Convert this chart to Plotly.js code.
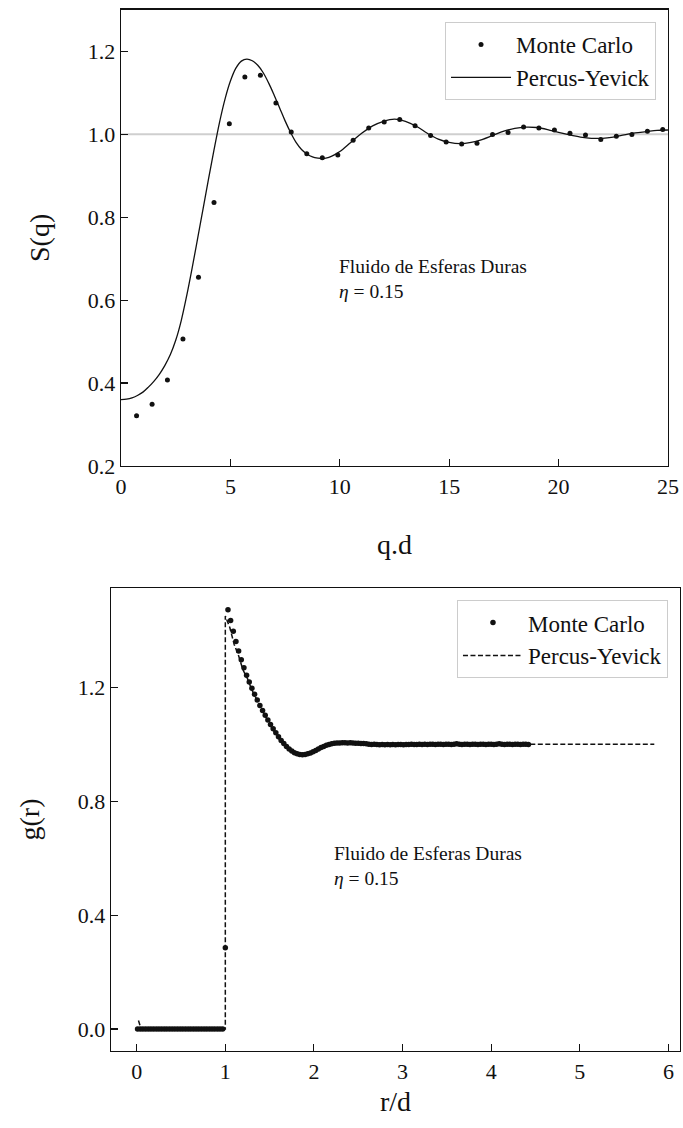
<!DOCTYPE html>
<html>
<head>
<meta charset="utf-8">
<script src="https://cdn.plot.ly/plotly-3.0.1.min.js"></script>
<style>
  html, body { margin: 0; padding: 0; background: #fff; }
  #chart { width: 683px; height: 1128px; }
</style>
</head>
<body>
<div id="chart"></div>
<script>
// ---------- S(q) panel data ----------
const q_mc = [0.71,1.42,2.12,2.83,3.54,4.25,4.95,5.66,6.37,7.08,7.78,8.49,9.20,9.91,10.61,11.32,12.03,12.74,13.44,14.15,14.86,15.57,16.27,16.98,17.69,18.40,19.10,19.81,20.52,21.23,21.93,22.64,23.35,24.06,24.76];
const s_mc = [0.321,0.349,0.407,0.506,0.655,0.835,1.025,1.138,1.142,1.075,1.005,0.953,0.943,0.950,0.985,1.015,1.029,1.035,1.020,0.997,0.981,0.976,0.978,0.999,1.004,1.017,1.015,1.010,1.002,0.998,0.987,0.995,0.999,1.007,1.011];

const q_py = [0,0.25,0.5,0.75,1.0,1.25,1.5,1.75,2.0,2.25,2.5,2.75,3.0,3.25,3.5,3.75,4.0,4.25,4.5,4.75,5.0,5.25,5.5,5.75,6.0,6.25,6.5,6.75,7.0,7.25,7.5,7.75,8.0,8.25,8.5,8.75,9.0,9.25,9.5,9.75,10.0,10.5,11.0,11.5,12.0,12.5,13.0,13.5,14.0,14.5,15.0,15.5,16.0,16.5,17.0,17.5,18.0,18.5,19.0,19.5,20.0,20.5,21.0,21.5,22.0,22.5,23.0,23.5,24.0,24.5,25.0];
const s_py = [0.360,0.361,0.364,0.370,0.378,0.390,0.404,0.421,0.442,0.468,0.503,0.550,0.610,0.677,0.748,0.820,0.892,0.962,1.028,1.084,1.128,1.159,1.176,1.181,1.177,1.166,1.148,1.123,1.094,1.063,1.032,1.004,0.980,0.963,0.952,0.945,0.942,0.941,0.944,0.950,0.958,0.980,1.002,1.020,1.031,1.036,1.031,1.019,1.002,0.988,0.980,0.977,0.980,0.987,0.997,1.007,1.014,1.017,1.016,1.011,1.004,0.998,0.993,0.990,0.990,0.993,0.998,1.003,1.006,1.009,1.010];

const s_reference = 1.0;

// ---------- g(r) panel data ----------
const r_mc = [0.01,0.04,0.07,0.10,0.13,0.16,0.19,0.22,0.25,0.28,0.31,0.34,0.37,0.40,0.43,0.46,0.49,0.52,0.55,0.58,0.61,0.64,0.67,0.70,0.73,0.76,0.79,0.82,0.85,0.88,0.91,0.94,0.97,1.00,
 1.03,1.06,1.09,1.12,1.15,1.18,1.21,1.24,1.27,1.30,1.33,1.36,1.39,1.42,1.45,1.48,1.51,1.54,1.57,1.60,1.63,1.66,1.69,1.72,1.75,1.78,1.81,1.84,1.87,1.90,1.93,1.96,1.99,2.02,2.05,2.08,2.11,2.14,2.17,2.20,2.23,2.26,2.29,2.32,2.35,2.38,2.41,2.44,2.47,2.50,2.53,2.56,2.59,2.62,
 2.65,2.68,2.71,2.74,2.77,2.80,2.83,2.86,2.89,2.92,2.95,2.98,3.01,3.04,3.07,3.10,3.13,3.16,3.19,3.22,3.25,3.28,3.31,3.34,3.37,3.40,3.43,3.46,3.49,3.52,3.55,3.58,3.61,3.64,3.67,3.70,3.73,3.76,3.79,3.82,3.85,3.88,3.91,3.94,3.97,4.00,4.03,4.06,4.09,4.12,4.15,4.18,4.21,4.24,4.27,4.30,4.33,4.36,4.39,4.42];
const g_mc = [0,0,0,0,0,0,0,0,0,0,0,0,0,0,0,0,0,0,0,0,0,0,0,0,0,0,0,0,0,0,0,0,0,0.285,
 1.472,1.434,1.396,1.360,1.327,1.296,1.268,1.242,1.218,1.196,1.175,1.155,1.136,1.118,1.101,1.085,1.069,1.054,1.040,1.026,1.013,1.002,0.992,0.983,0.976,0.970,0.966,0.964,0.963,0.964,0.966,0.969,0.973,0.978,0.983,0.988,0.992,0.996,0.999,1.001,1.003,1.004,1.004,1.005,1.005,1.004,1.005,1.004,1.003,1.003,1.002,1.002,1.001,1.000,
 0.999,1.000,0.999,0.998,0.999,0.998,0.999,0.998,0.999,0.998,0.999,0.999,0.998,0.999,0.999,1.000,0.999,0.999,1.000,0.999,1.000,0.999,1.000,1.000,0.999,1.000,1.000,0.999,1.000,1.000,0.999,1.000,1.001,1.000,0.999,1.000,1.000,0.999,1.000,1.000,0.999,1.000,1.000,0.999,1.000,1.000,0.999,1.000,1.001,1.000,0.999,1.000,1.000,0.999,1.000,1.000,0.999,1.000,1.000,0.999];

const r_py = [0.02,0.05,0.10,0.50,0.99,1.00,1.00,1.05,1.10,1.15,1.20,1.25,1.30,1.40,1.50,1.60,1.70,1.80,1.90,2.00,2.10,2.20,2.30,2.40,2.60,2.80,3.00,3.50,4.00,4.50,5.00,5.50,5.84];
const g_py = [0.03,0.00,0.00,0.00,0.00,0.00,1.45,1.41,1.35,1.31,1.26,1.23,1.19,1.13,1.07,1.02,0.99,0.967,0.964,0.975,0.991,1.001,1.004,1.004,1.001,0.999,0.999,1.000,1.000,1.000,1.000,1.000,1.000];

const seriesNames = ['Monte Carlo', 'Percus-Yevick'];
const panelText = 'Fluido de Esferas Duras<br><i>η</i> = 0.15';

// ---------- styling ----------
const FONT = 'Liberation Serif, Times New Roman, serif';
const INK = '#111111';

const traces = [
  { x: q_mc, y: s_mc, type: 'scatter', mode: 'markers', name: seriesNames[0],
    marker: { color: INK, size: 5 }, xaxis: 'x', yaxis: 'y', legend: 'legend' },
  { x: q_py, y: s_py, type: 'scatter', mode: 'lines', name: seriesNames[1],
    line: { color: INK, width: 1.3, shape: 'spline', smoothing: 1 }, xaxis: 'x', yaxis: 'y', legend: 'legend' },
  { x: r_mc, y: g_mc, type: 'scatter', mode: 'markers', name: seriesNames[0],
    marker: { color: INK, size: 5.5 }, xaxis: 'x2', yaxis: 'y2', legend: 'legend2' },
  { x: r_py, y: g_py, type: 'scatter', mode: 'lines', name: seriesNames[1],
    line: { color: INK, width: 1.5, dash: '5px,2.5px' }, xaxis: 'x2', yaxis: 'y2', legend: 'legend2' }
];

function axisBase(extra) {
  return Object.assign({
    showgrid: false, zeroline: false, showline: true, mirror: true,
    linecolor: INK, linewidth: 1.3,
    ticks: 'inside', ticklen: 7, tickwidth: 1.1, tickcolor: INK,
    tickfont: { family: FONT, size: 22, color: INK }
  }, extra);
}

const legendBase = {
  bgcolor: 'rgba(255,255,255,0.9)', bordercolor: '#cccccc', borderwidth: 1,
  font: { family: FONT, size: 23, color: INK },
  xanchor: 'right', yanchor: 'top', itemwidth: 60, tracegroupgap: 0
};

const layout = {
  width: 683, height: 1128,
  margin: { l: 0, r: 0, t: 0, b: 0 },
  paper_bgcolor: '#ffffff', plot_bgcolor: '#ffffff',
  showlegend: true,
  xaxis: axisBase({ domain: [0.1772, 0.9780], anchor: 'y', range: [0, 25], tick0: 0, dtick: 5,
    title: { text: 'q.d', font: { family: FONT, size: 28, color: INK }, standoff: 36 } }),
  yaxis: axisBase({ domain: [0.5869, 0.9914], anchor: 'x', range: [0.2, 1.3], tick0: 0.2, dtick: 0.2, tickformat: '.1f',
    title: { text: 'S(q)', font: { family: FONT, size: 28, color: INK }, standoff: 30 } }),
  xaxis2: axisBase({ domain: [0.1625, 0.9956], anchor: 'y2', range: [-0.29, 6.13], tick0: 0, dtick: 1,
    title: { text: 'r/d', font: { family: FONT, size: 28, color: INK }, standoff: 8 } }),
  yaxis2: axisBase({ domain: [0.0683, 0.4787], anchor: 'x2', range: [-0.077, 1.548], tick0: 0, dtick: 0.4, tickformat: '.1f',
    title: { text: 'g(r)', font: { family: FONT, size: 28, color: INK }, standoff: 30 } }),
  legend: Object.assign({}, legendBase, { x: 0.9605, y: 0.9805 }),
  legend2: Object.assign({}, legendBase, { x: 0.978, y: 0.468 }),
  shapes: [
    { type: 'line', xref: 'x domain', yref: 'y', x0: 0, x1: 1, y0: s_reference, y1: s_reference,
      line: { color: '#cfcfcf', width: 2 }, layer: 'below' }
  ],
  annotations: [
    { xref: 'x', yref: 'y', x: 9.85, y: 0.71, xanchor: 'left', yanchor: 'top', align: 'left',
      text: panelText, showarrow: false, font: { family: FONT, size: 19.5, color: INK } },
    { xref: 'x2', yref: 'y2', x: 2.2, y: 0.66, xanchor: 'left', yanchor: 'top', align: 'left',
      text: panelText, showarrow: false, font: { family: FONT, size: 19.5, color: INK } }
  ]
};

Plotly.newPlot('chart', traces, layout, { staticPlot: true, displayModeBar: false });
</script>
</body>
</html>
